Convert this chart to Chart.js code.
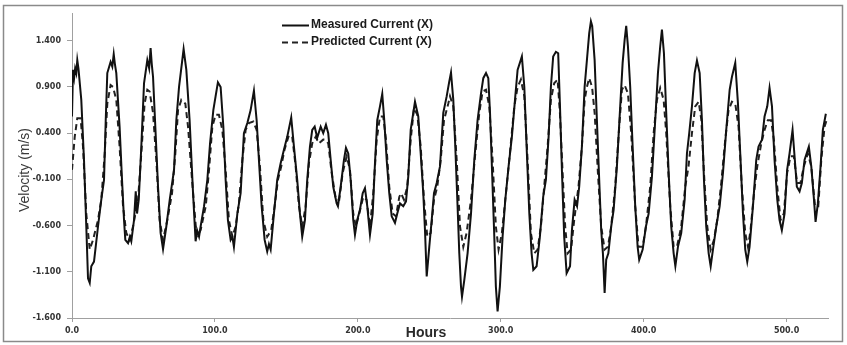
<!DOCTYPE html>
<html><head><meta charset="utf-8">
<script src="https://cdn.jsdelivr.net/npm/chart.js@4.4.0/dist/chart.umd.min.js"></script>
<style>html,body{margin:0;padding:0;background:#fff;}#wrap{width:847px;height:345px;}</style>
</head><body><div id="wrap"><canvas id="c" width="847" height="345"></canvas></div>
<script>
const seriesNames = ['Measured Current (X)', 'Predicted Current (X)'];
const xTitle = 'Hours';
const yTitle = 'Velocity (m/s)';
const xTicks = [0, 100, 200, 300, 400, 500];
const yTicks = [-1.6, -1.1, -0.6, -0.1, 0.4, 0.9, 1.4];

const measuredHours = [0,0.7,1.5,2.2,3.0,3.7,4.5,6.5,8.4,10,11.2,12.4,13.5,15.4,18.2,20.5,22.4,23.6,24.7,27,28.2,29.2,30,31,33.3,35,36.4,37.3,39.2,40.5,41.5,43.4,44.6,45.5,46.7,48.5,50.4,52.7,54,55,55.8,56.7,58.3,60.2,62,63.7,66,68.4,71.4,73,74.9,78.1,80,82.3,84.7,86.5,87.5,88.9,90,92.4,94.7,96.6,98.9,100.5,102.1,104,105.9,107.5,109.1,111,112.2,113.3,115.7,118,120.3,122.7,125,127.3,129.2,130.8,132.7,134.8,136.6,137.8,139,141.3,143.6,146,148.3,150.6,153.4,155.3,157.6,159.5,161.1,163,164.6,166.5,168.1,169.8,171.6,174,175.8,177.7,179.3,181,182.8,185.2,186.1,188,190.3,191.7,193.3,195,196.8,198,199.6,201.5,203.4,205,206.6,208.5,210.4,212,213.6,215.5,217.1,218.5,220.2,222,223.7,226,227.6,229.5,231.8,233.7,235.3,237,240,242.3,244,245.8,247,248.2,250,251.7,253.3,255.2,257.5,259.8,262.2,264,265.2,266.8,268.2,269.8,271,272.2,272.9,274.5,276.8,279.2,281.5,283.8,286.2,287.8,289.7,291.3,292.5,293.9,295.5,296.6,297.8,299.4,301.3,303.2,305.5,307.8,310.2,311.8,314.8,316.5,318.1,320,321.6,322.8,325.1,327.4,329.7,331.6,333.5,335.1,336.7,338.6,340.2,341.4,342.8,344.4,346.1,348.5,349.8,351.7,353.4,354.9,356.8,358.7,360.3,361.9,363.1,364,365.7,367.3,368.9,370.3,371.5,372.7,373.8,375.3,377.3,379,381.3,383.6,385.3,386.7,387.8,389,390.6,392.3,394.1,395.8,396.9,399.3,401.6,403.5,405.8,408.1,410,411.6,412.8,414.2,415.8,417.5,419.3,421,422.2,424,426.3,428.7,430.3,431.9,433.8,435.7,437.3,439.2,440.8,442.2,443.8,445.5,446.9,448.5,450.8,453.2,455.5,457.8,460.2,461.8,464.1,466,467.8,469.5,471.1,472.5,474.1,476.5,478.8,480.4,482.8,484.6,486.5,488.1,489.8,491.6,493.5,495.1,496.7,498.6,500.4,502.1,504.2,505.6,507.2,509.1,510.7,512.6,515.6,517.3,519.2,520.3,521.9,523.8,525.4,527.5];
const measuredVelocity = [0.58,1.085,1.0,1.1,1.05,1.19,1.1,0.76,0.11,-0.61,-1.17,-1.22,-1.04,-0.99,-0.61,-0.32,-0.105,0.54,1.05,1.17,1.12,1.255,1.15,1.05,0.47,-0.105,-0.54,-0.755,-0.79,-0.72,-0.77,-0.54,-0.23,-0.47,-0.32,0.255,0.94,1.19,1.1,1.32,1.15,1.01,0.47,-0.18,-0.68,-0.855,-0.61,-0.32,0.003,0.54,0.9,1.31,1.085,0.54,-0.25,-0.77,-0.65,-0.72,-0.61,-0.39,-0.105,0.29,0.65,0.8,0.95,0.9,0.47,-0.105,-0.54,-0.755,-0.72,-0.83,-0.47,-0.25,0.4,0.51,0.65,0.86,0.54,0.11,-0.39,-0.755,-0.88,-0.8,-0.86,-0.47,-0.105,0.075,0.22,0.36,0.57,0.255,-0.105,-0.47,-0.72,-0.54,-0.105,0.255,0.435,0.47,0.35,0.47,0.4,0.49,0.4,0.11,-0.18,-0.36,-0.39,-0.18,0.11,0.24,0.18,-0.105,-0.54,-0.7,-0.54,-0.43,-0.25,-0.195,-0.39,-0.7,-0.47,0.075,0.54,0.69,0.825,0.54,0.11,-0.25,-0.5,-0.57,-0.47,-0.36,-0.39,-0.34,-0.07,0.435,0.74,0.58,0.18,-0.25,-0.65,-1.15,-0.83,-0.54,-0.25,-0.14,0.04,0.62,0.8,0.96,1.056,0.76,0.255,-0.39,-0.9,-1.26,-1.37,-1.19,-0.9,-0.47,0.11,0.54,0.83,0.995,1.05,0.995,0.62,0.003,-0.72,-1.26,-1.53,-1.26,-0.72,-0.32,0.04,0.36,0.8,1.085,1.23,0.9,0.255,-0.47,-0.9,-1.08,-1.04,-0.72,-0.29,-0.105,0.36,0.9,1.23,1.28,1.265,0.72,0.003,-0.72,-1.115,-1.04,-0.65,-0.32,-0.39,-0.18,0.255,0.9,1.19,1.48,1.61,1.56,1.19,0.54,-0.105,-0.65,-0.9,-1.33,-0.97,-0.9,-0.61,-0.43,0.04,0.69,1.16,1.41,1.56,1.34,0.9,0.255,-0.39,-0.83,-0.97,-0.86,-0.61,-0.47,-0.07,0.54,1.05,1.34,1.52,1.265,0.62,-0.03,-0.61,-0.9,-1.04,-0.83,-0.68,-0.32,0.18,0.4,0.69,1.05,1.185,1.05,0.54,-0.105,-0.61,-0.9,-1.04,-0.86,-0.61,-0.39,-0.03,0.435,0.87,1.01,1.16,0.72,0.11,-0.47,-0.86,-0.99,-0.83,-0.39,0.11,0.255,0.33,0.58,0.69,0.89,0.69,0.11,-0.32,-0.54,-0.65,-0.47,0.003,0.18,0.435,0.15,-0.18,-0.23,-0.14,0.11,0.255,0.04,-0.32,-0.56,-0.36,0.04,0.435,0.61];

const predictedHours = [0,1.9,3.7,6,7.7,10,12.4,14.7,18.2,20.5,22.9,24.7,27,28.7,31,33.3,35.7,38,40.3,42.7,46.2,48.5,50.8,52.7,54.3,56.7,59,61.3,63.7,66.7,70,72.3,74.2,76.5,79.3,81.2,84,87.2,90,93.6,95.9,98.2,100.5,102.8,105.2,107.5,109.8,112.2,114.5,116.8,119.2,121.5,123.8,126.9,129.2,131.5,133.9,136.6,139.4,141.8,144.1,146.4,148.7,151.8,154.1,156.5,158.8,161.1,163.5,165.8,168.1,170.5,172.8,175.8,177,179.3,181.7,184.7,187,189.4,192.2,194.5,196.8,198.7,201,203.8,206.1,208.5,210.8,213.2,215.5,217.8,219.7,222,224.4,226.7,229,230.2,232.3,234.6,237,239.3,241.6,244,246.3,248.6,251,253.3,255.6,258,260.3,263.3,264.5,266.8,269.2,271.5,273.8,276.1,279.2,282.2,285,287.3,289.7,292,294.3,296.6,298.5,300.8,303.2,306.4,309.5,311.8,314.1,316.5,318.8,321.1,323.5,325.8,328.1,330.4,332.8,335.1,337.4,339.8,341.4,343.3,345.1,346.8,349.2,351.4,354.4,356.8,358.7,360.3,361.9,363.9,365.7,368,370.3,372.7,375,377.3,380.1,382.9,384.8,386.7,389,391.3,394.1,396.4,399.3,401.6,404.6,407,409.3,411.6,414,415.8,418.6,421,423.3,426.3,429.1,431.4,433.8,436.1,438.5,440.4,442.2,444.5,446.9,449.2,451.5,454.3,457.1,459.4,461.8,464.1,466.4,468.7,471.1,473,474.8,477.2,479.5,482.3,484.6,486.9,489.2,491.1,493.5,495.8,498.1,500.4,502.8,505.1,507.4,509.7,512.1,514.9,517.3,519.9,522.2,524.3,526.6,528];
const predictedVelocity = [0.003,0.36,0.56,0.56,0.255,-0.47,-0.86,-0.755,-0.54,-0.32,0.18,0.72,0.92,0.9,0.76,0.255,-0.39,-0.68,-0.755,-0.61,-0.32,0.18,0.72,0.87,0.85,0.62,0.11,-0.54,-0.755,-0.54,-0.25,0.18,0.65,0.76,0.72,0.47,-0.105,-0.72,-0.65,-0.39,0.003,0.47,0.6,0.6,0.435,0.003,-0.54,-0.72,-0.61,-0.36,0.11,0.435,0.51,0.525,0.435,0.04,-0.54,-0.72,-0.65,-0.39,-0.105,0.04,0.22,0.38,0.36,0.04,-0.39,-0.61,-0.39,0.075,0.29,0.36,0.29,0.33,0.33,0.29,-0.03,-0.32,-0.32,-0.03,0.15,0.003,-0.47,-0.61,-0.47,-0.29,-0.32,-0.61,-0.25,0.33,0.58,0.58,0.33,-0.18,-0.47,-0.5,-0.29,-0.25,-0.32,-0.18,0.33,0.67,0.6,0.255,-0.32,-0.72,-0.68,-0.32,-0.18,0.11,0.54,0.72,0.8,0.69,0.11,-0.61,-0.83,-0.68,-0.32,0.18,0.62,0.85,0.87,0.69,0.11,-0.61,-0.86,-0.68,-0.32,0.18,0.69,0.9,0.98,0.8,0.11,-0.68,-0.9,-0.86,-0.61,-0.18,0.255,0.76,0.94,0.98,0.62,-0.03,-0.61,-0.9,-0.86,-0.54,-0.18,0.255,0.76,0.9,0.995,0.9,0.62,-0.03,-0.61,-0.86,-0.83,-0.61,-0.18,0.47,0.87,0.92,0.83,0.4,-0.39,-0.83,-0.83,-0.61,-0.18,0.4,0.76,0.89,0.76,0.4,-0.39,-0.83,-0.83,-0.61,-0.18,0.04,0.4,0.69,0.74,0.54,-0.03,-0.61,-0.86,-0.755,-0.54,-0.14,0.33,0.65,0.74,0.72,0.47,-0.18,-0.68,-0.83,-0.65,-0.25,0.04,0.29,0.435,0.54,0.54,0.33,-0.18,-0.54,-0.47,-0.03,0.15,0.15,-0.14,-0.14,0.04,0.18,0.04,-0.39,-0.39,0.11,0.47,0.54];

const toPoints = (xs, ys) => xs.map((x, i) => ({x: x, y: ys[i]}));

const decor = {
  id: 'decor',
  beforeDraw(chart) {
    const ctx = chart.ctx;
    ctx.save();
    ctx.fillStyle = '#ffffff';
    ctx.fillRect(0, 0, chart.width, chart.height);
    ctx.restore();
  },
  afterDraw(chart) {
    const ctx = chart.ctx;
    ctx.save();
    ctx.strokeStyle = '#8a8a8a';
    ctx.lineWidth = 1.5;
    ctx.strokeRect(3.5, 5.5, 839, 336);
    ctx.fillStyle = '#3a3a3a';
    ctx.font = '14px "Liberation Sans", Arial, sans-serif';
    ctx.textAlign = 'center';
    ctx.textBaseline = 'middle';
    ctx.save();
    ctx.translate(25, 170);
    ctx.rotate(-Math.PI / 2);
    ctx.fillText(yTitle, 0, 0);
    ctx.restore();
    ctx.font = 'bold 14px "Liberation Sans", Arial, sans-serif';
    ctx.fillStyle = '#2a2a2a';
    ctx.fillText(xTitle, 426, 333);
    const ds = chart.data.datasets;
    ctx.font = 'bold 12px "Liberation Sans", Arial, sans-serif';
    ctx.textAlign = 'left';
    const rows = [25, 42];
    ds.forEach((d, i) => {
      const y = rows[i];
      ctx.strokeStyle = d.borderColor;
      ctx.lineWidth = d.borderWidth;
      ctx.setLineDash(d.borderDash || []);
      ctx.beginPath();
      ctx.moveTo(282, y + 0.5);
      ctx.lineTo(309, y + 0.5);
      ctx.stroke();
      ctx.setLineDash([]);
      ctx.fillStyle = '#1a1a1a';
      ctx.fillText(d.label, 311, y);
    });
    ctx.restore();
  }
};

const tickFont = { family: '"DejaVu Sans", sans-serif', size: 8, weight: 'bold' };

new Chart(document.getElementById('c'), {
  type: 'line',
  data: {
    datasets: [
      { label: seriesNames[0], data: toPoints(measuredHours, measuredVelocity), borderColor: '#111111', borderWidth: 2, pointRadius: 0, tension: 0, fill: false },
      { label: seriesNames[1], data: toPoints(predictedHours, predictedVelocity), borderColor: '#222222', borderWidth: 2, borderDash: [6, 4], pointRadius: 0, tension: 0, fill: false }
    ]
  },
  options: {
    responsive: false,
    animation: false,
    devicePixelRatio: 1,
    layout: { padding: { left: 0, top: 13, right: 19, bottom: 0 } },
    plugins: { legend: { display: false }, tooltip: { enabled: false } },
    scales: {
      x: {
        type: 'linear', min: 0, max: 529,
        afterBuildTicks: s => { s.ticks = xTicks.map(v => ({value: v})); },
        afterFit: s => { s.height = 27; },
        border: { color: '#a0a0a0', width: 1 },
        grid: { drawOnChartArea: false, drawTicks: true, tickLength: 4, color: '#a0a0a0' },
        ticks: { color: '#333', font: tickFont, padding: 4, maxRotation: 0, callback: v => Number(v).toFixed(1) }
      },
      y: {
        type: 'linear', min: -1.6, max: 1.7,
        afterBuildTicks: s => { s.ticks = yTicks.map(v => ({value: v})); },
        afterFit: s => { s.width = 72; },
        border: { color: '#a0a0a0', width: 1 },
        grid: { drawOnChartArea: false, drawTicks: true, tickLength: 5, color: '#a0a0a0' },
        ticks: { color: '#333', font: tickFont, padding: 6, callback: v => Number(v).toFixed(3) }
      }
    }
  },
  plugins: [decor]
});
</script>
</body></html>
